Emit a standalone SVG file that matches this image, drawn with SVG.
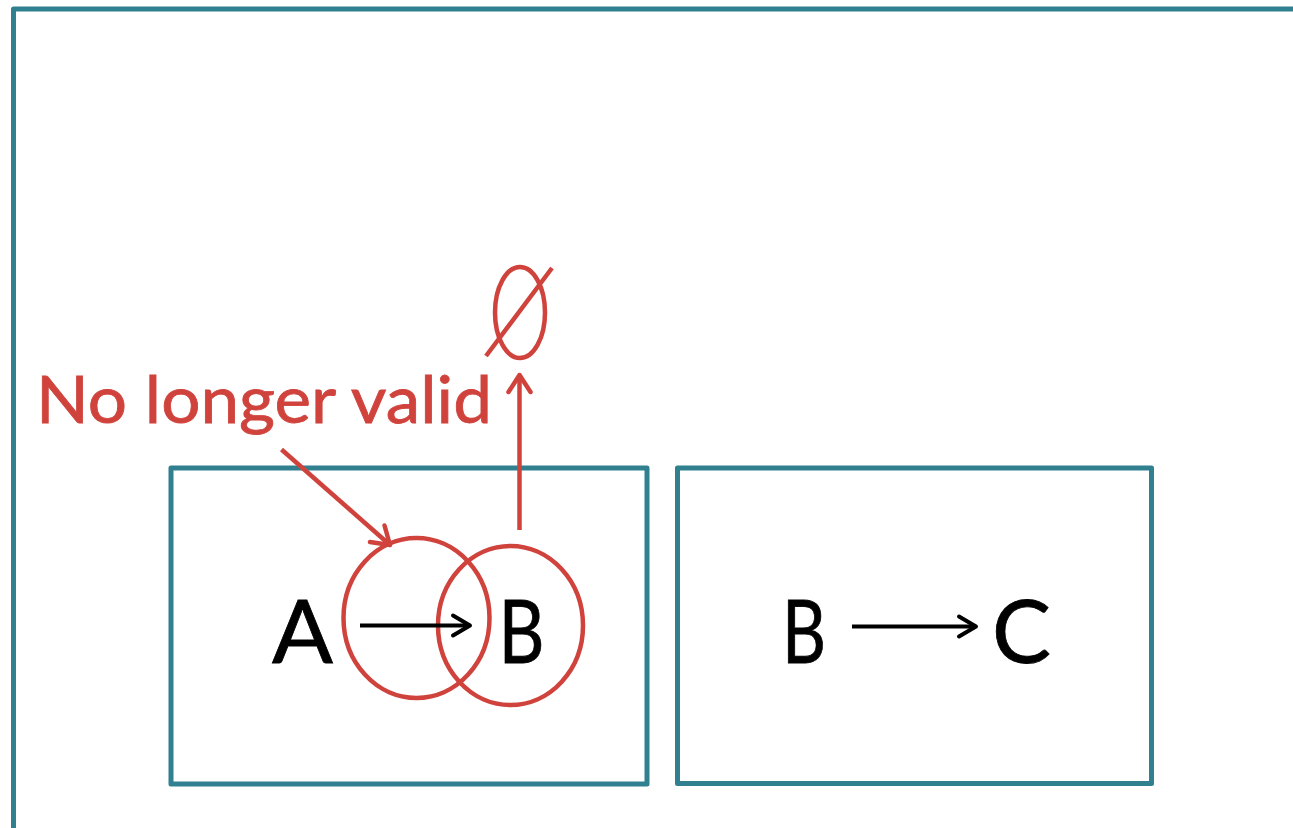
<svg xmlns="http://www.w3.org/2000/svg" width="1293" height="828" viewBox="0 0 1293 828">
<style>
.frame{fill:none;stroke:#31808f;stroke-width:5;stroke-linejoin:round}
.lbl{font-family:Lato,"Liberation Sans",sans-serif;font-size:88px;fill:#000;stroke:#000;stroke-width:0.8;text-anchor:middle}
.red{fill:none;stroke:#d0433d;stroke-width:4.5}
.blk{fill:none;stroke:#000;stroke-width:4}
.note{font-family:Lato,"Liberation Sans",sans-serif;font-size:66px;fill:#d0433d;stroke:#d0433d;stroke-width:0.8}
</style>
<defs>
<marker id="ar" markerUnits="userSpaceOnUse" markerWidth="30" markerHeight="30" viewBox="-22 -15 26 30" refX="0" refY="0" orient="auto">
<path d="M-17,-11 L0,0 L-17,11" fill="none" stroke="#d0433d" stroke-width="4.5" stroke-linecap="round" stroke-linejoin="round"/>
</marker>
<marker id="ab" markerUnits="userSpaceOnUse" markerWidth="30" markerHeight="30" viewBox="-22 -15 26 30" refX="0" refY="0" orient="auto">
<path d="M-17,-10 L0,0 L-17,10" fill="none" stroke="#000" stroke-width="4" stroke-linecap="round" stroke-linejoin="round"/>
</marker>
</defs>
<rect width="1293" height="828" fill="#fff"/>
<g id="outer"><path class="frame" d="M13.5,840 L13.5,9 L1300,9"/></g>
<g id="box1">
<rect class="frame" x="171" y="468" width="476" height="316"/>
<text class="lbl" x="302.5" y="663" textLength="61" lengthAdjust="spacingAndGlyphs">A</text>
<text class="lbl" x="521.5" y="663" textLength="46" lengthAdjust="spacingAndGlyphs">B</text>
<ellipse class="red" cx="416.5" cy="618" rx="73" ry="80"/>
<ellipse class="red" cx="510.5" cy="625.5" rx="72.5" ry="79.5"/>
</g>
<g id="box2">
<rect class="frame" x="677.5" y="468" width="474" height="315.5"/>
<text class="lbl" x="804" y="663" textLength="44" lengthAdjust="spacingAndGlyphs">B</text>
<text class="lbl" x="1021.5" y="663" textLength="59" lengthAdjust="spacingAndGlyphs">C</text>
</g>
<g id="note">
<text class="note" x="36" y="423" textLength="456" lengthAdjust="spacingAndGlyphs">No longer valid</text>
</g>
<g id="emptyset">
<ellipse class="red" cx="520" cy="312.5" rx="25" ry="45.5"/>
<line class="red" x1="486" y1="356" x2="552" y2="268"/>
</g>
<g id="connectors">
<line class="blk" x1="360" y1="625.5" x2="470" y2="625.5" marker-end="url(#ab)"/>
<line class="blk" x1="852" y1="626.5" x2="976" y2="626.5" marker-end="url(#ab)"/>
<line class="red" x1="281.5" y1="449.5" x2="390" y2="545" marker-end="url(#ar)"/>
<line class="red" x1="519.5" y1="530" x2="519.5" y2="375" marker-end="url(#ar)"/>
</g>
</svg>
